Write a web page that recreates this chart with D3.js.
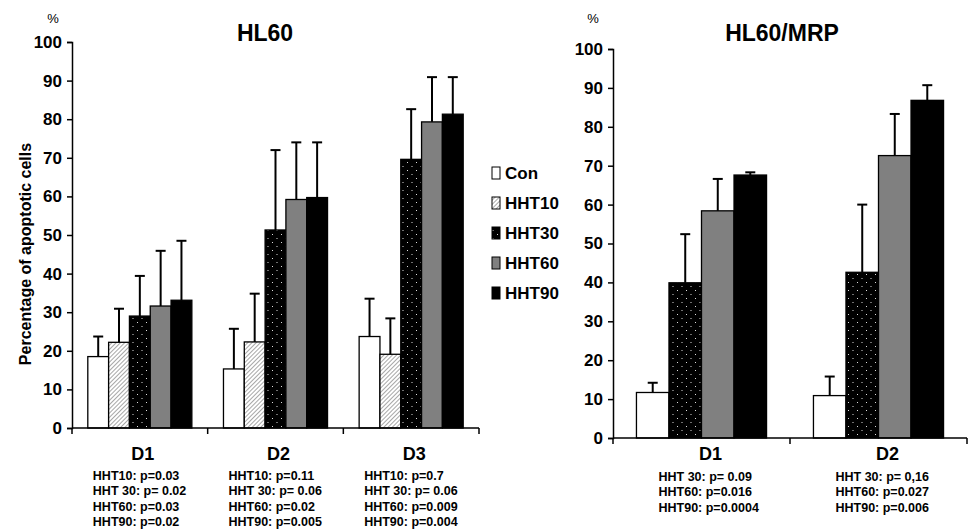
<!DOCTYPE html>
<html><head><meta charset="utf-8">
<script src="https://cdn.jsdelivr.net/npm/d3@7"></script>
<style>
body{margin:0;background:#fff;}
text{font-family:"Liberation Sans",Arial,sans-serif;font-weight:bold;fill:#000;}
</style></head>
<body><svg id="c" width="971" height="529"></svg>
<script>
// ---------- data ----------
const yTicks = [0,10,20,30,40,50,60,70,80,90,100];

// HL60
const hl60Days = ["D1","D2","D3"];
const hl60Series = ["Con","HHT10","HHT30","HHT60","HHT90"];
const hl60Con   = [18.5, 15.3, 23.7];
const hl60HHT10 = [22.2, 22.3, 19.1];
const hl60HHT30 = [29.0, 51.3, 69.6];
const hl60HHT60 = [31.6, 59.2, 79.3];
const hl60HHT90 = [33.1, 59.7, 81.3];
const hl60ConSD   = [5.2, 10.4, 9.8];
const hl60HHT10SD = [8.7, 12.5, 9.3];
const hl60HHT30SD = [10.4, 20.7, 13.0];
const hl60HHT60SD = [14.3, 14.8, 11.6];
const hl60HHT90SD = [15.4, 14.3, 9.6];
const hl60P = [
  ["HHT10: p=0.03","HHT 30: p= 0.02","HHT60: p=0.03","HHT90: p=0.02"],
  ["HHT10: p=0.11","HHT 30: p= 0.06","HHT60: p=0.02","HHT90: p=0.005"],
  ["HHT10: p=0.7","HHT 30: p= 0.06","HHT60: p=0.009","HHT90: p=0.004"]
];

// HL60/MRP
const mrpDays = ["D1","D2"];
const mrpSeries = ["Con","HHT30","HHT60","HHT90"];
const mrpCon   = [11.7, 10.9];
const mrpHHT30 = [39.9, 42.6];
const mrpHHT60 = [58.4, 72.6];
const mrpHHT90 = [67.6, 86.8];
const mrpConSD   = [2.5, 4.9];
const mrpHHT30SD = [12.5, 17.4];
const mrpHHT60SD = [8.2, 10.7];
const mrpHHT90SD = [0.7, 3.9];
const mrpP = [
  ["HHT 30: p= 0.09","HHT60: p=0.016","HHT90: p=0.0004"],
  ["HHT 30: p= 0,16","HHT60: p=0.027","HHT90: p=0.006"]
];

const legendSeries = ["Con","HHT10","HHT30","HHT60","HHT90"];

// ---------- drawing ----------
const svg = d3.select("#c");
const defs = svg.append("defs");
const hatch = defs.append("pattern").attr("id","hatch").attr("patternUnits","userSpaceOnUse")
  .attr("width",3).attr("height",3).attr("patternTransform","rotate(45)");
hatch.append("rect").attr("width",3).attr("height",3).attr("fill","#fff");
hatch.append("line").attr("x1",0).attr("y1",0).attr("x2",0).attr("y2",3).attr("stroke","#777").attr("stroke-width",1.3);
const dots = defs.append("pattern").attr("id","dots").attr("patternUnits","userSpaceOnUse")
  .attr("width",9).attr("height",8);
dots.append("rect").attr("width",9).attr("height",8).attr("fill","#000");
dots.append("rect").attr("x",2).attr("y",2).attr("width",1).attr("height",1).attr("fill","#ddd");
dots.append("rect").attr("x",6.5).attr("y",6).attr("width",1).attr("height",1).attr("fill","#ddd");

const fills = {Con:"#fff", HHT10:"url(#hatch)", HHT30:"url(#dots)", HHT60:"#808080", HHT90:"#000"};

function chart(o){
  const g = svg.append("g");
  const x = d3.scaleBand().domain(o.days).range(o.xr).paddingInner(o.pad).paddingOuter(o.pad/2);
  const xs = d3.scaleBand().domain(o.series).range([0, x.bandwidth()]);
  const y = d3.scaleLinear().domain([0,100]).range(o.yr);
  const rows = [];
  o.days.forEach((d,i)=>o.series.forEach((s,j)=>rows.push({d, s, v:o.means[j][i], sd:o.sds[j][i]})));

  // bars
  g.selectAll("rect.bar").data(rows).join("rect")
    .attr("x", r=>x(r.d)+xs(r.s)).attr("width", xs.bandwidth())
    .attr("y", r=>y(r.v)).attr("height", r=>y(0)-y(r.v))
    .attr("fill", r=>fills[r.s]).attr("stroke","#000").attr("stroke-width",1.3);
  // error bars
  const cx = r=>x(r.d)+xs(r.s)+xs.bandwidth()/2;
  g.selectAll("line.eb").data(rows).join("line")
    .attr("x1",cx).attr("x2",cx).attr("y1",r=>y(r.v)).attr("y2",r=>y(r.v+r.sd))
    .attr("stroke","#000").attr("stroke-width",2);
  g.selectAll("line.cap").data(rows).join("line")
    .attr("x1",r=>cx(r)-5).attr("x2",r=>cx(r)+5).attr("y1",r=>y(r.v+r.sd)).attr("y2",r=>y(r.v+r.sd))
    .attr("stroke","#000").attr("stroke-width",2);

  // y axis
  const ya = g.append("g").attr("transform",`translate(${o.xr[0]},0)`)
    .call(d3.axisLeft(y).tickValues(yTicks).tickSize(5).tickPadding(5));
  ya.select(".domain").attr("stroke-width",1.5);
  ya.selectAll(".tick line").attr("stroke-width",1.5);
  ya.selectAll(".tick text").style("font-size","17px").style("font-family","'Liberation Sans',Arial,sans-serif").style("font-weight","bold");
  // x axis
  const xa = g.append("g").attr("transform",`translate(0,${o.yr[0]})`);
  xa.append("line").attr("x1",o.xr[0]).attr("x2",o.xr[1]).attr("stroke","#000").attr("stroke-width",1.5);
  const bounds = [o.xr[0]].concat(o.days.map(d=>x(d)-x.step()*o.pad/2+x.step()));
  xa.selectAll("line.t").data(bounds).join("line")
    .attr("x1",d=>d).attr("x2",d=>d).attr("y1",0).attr("y2",6).attr("stroke","#000").attr("stroke-width",1.5);
  g.selectAll("text.cat").data(o.days).join("text").attr("class","cat")
    .attr("x",d=>x(d)+x.bandwidth()/2+o.labOff).attr("y",o.catY).attr("text-anchor","middle")
    .style("font-size","18px").text(d=>d);
  // p-values
  o.days.forEach((d,i)=>{
    g.selectAll(null).data(o.p[i]).join("text")
      .attr("x", x(d)+x.bandwidth()/2+o.pOff).attr("y",(t,k)=>o.pY+k*15.3)
      .style("font-size","12.5px").text(t=>t);
  });
  // title & %
  g.append("text").attr("x",o.titleX).attr("y",41).attr("text-anchor","middle").style("font-size","23px").text(o.title);
  g.append("text").attr("x",o.pctX).attr("y",23).attr("text-anchor","middle").style("font-size","13px").style("font-weight","normal").text("%");
}

chart({days:hl60Days, series:hl60Series,
  means:[hl60Con,hl60HHT10,hl60HHT30,hl60HHT60,hl60HHT90],
  sds:[hl60ConSD,hl60HHT10SD,hl60HHT30SD,hl60HHT60SD,hl60HHT90SD],
  xr:[72,479], yr:[428,42], pad:0.233, p:hl60P, catY:460, labOff:3, pOff:-47, pY:480,
  title:"HL60", titleX:265, pctX:53});

chart({days:mrpDays, series:mrpSeries,
  means:[mrpCon,mrpHHT30,mrpHHT60,mrpHHT90],
  sds:[mrpConSD,mrpHHT30SD,mrpHHT60SD,mrpHHT90SD],
  xr:[613,967], yr:[438,49], pad:0.265, p:mrpP, catY:460, labOff:9, pOff:-43, pY:481,
  title:"HL60/MRP", titleX:782, pctX:593});

// y label
svg.append("text").attr("transform","translate(31,254) rotate(-90)").attr("text-anchor","middle")
  .style("font-size","16px").text("Percentage of apoptotic cells");

// legend
const lg = svg.append("g");
lg.selectAll("rect").data(legendSeries).join("rect")
  .attr("x",492).attr("y",(d,i)=>167+i*30).attr("width",8).attr("height",12)
  .attr("fill",d=>fills[d]).attr("stroke","#000").attr("stroke-width",1);
lg.selectAll("text").data(legendSeries).join("text")
  .attr("x",505).attr("y",(d,i)=>179+i*30).style("font-size","17px").text(d=>d);
</script></body></html>
